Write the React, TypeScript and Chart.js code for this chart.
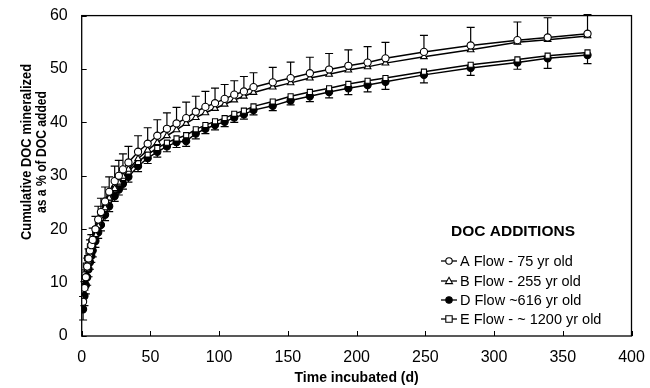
import React, { useEffect, useRef } from "react";
import { Chart, registerables } from "chart.js";

Chart.register(...registerables);

const days = [1, 2, 3, 4, 5, 6, 7, 8, 10, 12, 14, 17, 20, 24, 27, 30, 34, 41, 48, 55, 62, 69, 76, 83, 90, 97, 104, 111, 118, 125, 139, 152, 166, 180, 194, 208, 221, 249, 283, 317, 339, 368];

const flowA = [6.4, 9, 11, 13, 14.5, 16, 17, 18, 20, 21.8, 23.2, 25.2, 27, 29, 30, 31.2, 32.5, 34.5, 36, 37.5, 38.8, 39.8, 40.8, 42.0, 42.9, 43.6, 44.4, 45.2, 45.8, 46.6, 47.5, 48.3, 49.2, 49.9, 50.6, 51.2, 52.0, 53.2, 54.4, 55.4, 55.9, 56.6];
const flowB = [7, 9, 11, 12.5, 14, 15.2, 16.3, 17.2, 19, 20.6, 22, 24, 25.8, 27.6, 28.8, 29.9, 31.2, 33.2, 34.8, 36.2, 37.5, 38.6, 39.8, 40.9, 41.8, 42.6, 43.4, 44.2, 44.9, 45.6, 46.6, 47.4, 48.3, 49.0, 49.8, 50.4, 51.1, 52.3, 53.6, 55.0, 55.5, 56.2];
const flowD = [5.0, 7.5, 9.5, 11, 12.5, 13.8, 15, 16, 17.8, 19.4, 20.8, 22.7, 24.3, 26.2, 27.4, 28.5, 29.8, 31.8, 33.3, 34.5, 35.5, 36.3, 36.5, 37.9, 38.8, 39.5, 40.1, 40.9, 41.5, 42.3, 43.1, 44.1, 44.9, 45.7, 46.4, 47.0, 47.6, 48.9, 50.2, 51.2, 52.0, 52.6];
const flowE = [9.2, 11.5, 13.2, 14.6, 15.8, 16.8, 17.7, 18.5, 20, 21.4, 22.6, 24.3, 25.8, 27.5, 28.6, 29.6, 30.8, 32.6, 34.0, 35.2, 36.2, 37.0, 37.6, 38.7, 39.5, 40.2, 40.8, 41.6, 42.2, 43.0, 43.9, 44.9, 45.7, 46.4, 47.2, 47.8, 48.3, 49.5, 50.8, 51.8, 52.5, 53.1];

// upper error of A, lower error of D
const errA = [1, 1.2, 1.4, 1.6, 1.8, 2, 2, 2.2, 2.4, 2.5, 2.6, 2.7, 2.8, 2.8, 2.9, 2.9, 3, 3, 3, 3, 3, 3, 3.0, 2.9, 2.9, 2.8, 2.7, 2.6, 2.8, 2.7, 2.8, 3.0, 3.0, 3.0, 3.0, 3.0, 3.0, 3.1, 3.4, 3.4, 3.7, 3.6];
const errD = [2, 1.8, 1.6, 1.5, 1.4, 1.3, 1.2, 1.2, 1.2, 1.1, 1.1, 1.1, 1.0, 1.0, 1.0, 1.0, 1.0, 1.0, 1.0, 1.0, 1.0, 1.0, 1.0, 1.0, 0.9, 0.9, 0.9, 0.9, 0.9, 0.9, 0.9, 0.8, 1.0, 1.1, 1.2, 1.3, 1.4, 1.5, 1.4, 1.25, 1.9, 1.6];

const seriesLabels = ["A Flow - 75 yr old", "B Flow - 255 yr old", "D Flow ~616 yr old", "E Flow - ~ 1200 yr old"];
const legendTitle = "DOC ADDITIONS";
const xTitle = "Time incubated (d)";
const yTitle = ["Cumulative DOC mineralized", "as a % of DOC added"];
const xTicks = [0, 50, 100, 150, 200, 250, 300, 350, 400];
const yTicks = [0, 10, 20, 30, 40, 50, 60];

const FONT = "Arial, 'Liberation Sans', sans-serif";

function drawMarker(ctx: CanvasRenderingContext2D, style: string, fill: string, x: number, y: number, r: number) {
  ctx.save();
  ctx.beginPath();
  if (style === "circle") {
    ctx.arc(x, y, r, 0, Math.PI * 2);
  } else if (style === "triangle") {
    const h = r * 1.15;
    ctx.moveTo(x, y - h);
    ctx.lineTo(x + h * 0.95, y + h * 0.7);
    ctx.lineTo(x - h * 0.95, y + h * 0.7);
    ctx.closePath();
  } else {
    ctx.rect(x - r, y - r, r * 2, r * 2);
  }
  ctx.fillStyle = fill;
  ctx.fill();
  ctx.strokeStyle = "#000";
  ctx.lineWidth = 1.1;
  ctx.stroke();
  ctx.restore();
}

export default function App() {
  const ref = useRef<HTMLCanvasElement | null>(null);

  useEffect(() => {
    document.body.style.margin = "0";
    const canvas = ref.current;
    if (!canvas) return;

    const mk = (vals: number[]) => days.map((d, i) => ({ x: d, y: vals[i] }));

    const errorBars = {
      id: "errorBars",
      beforeDatasetsDraw(chart: any) {
        const { ctx } = chart;
        const xs = chart.scales.x;
        const ys = chart.scales.y;
        ctx.save();
        ctx.strokeStyle = "#000";
        ctx.lineWidth = 1.2;
        const draw = (vals: number[], errs: number[], dir: number) => {
          days.forEach((d, i) => {
            const px = xs.getPixelForValue(d);
            const p0 = ys.getPixelForValue(vals[i]);
            const p1 = ys.getPixelForValue(vals[i] + dir * errs[i]);
            ctx.beginPath();
            ctx.moveTo(px, p0);
            ctx.lineTo(px, p1);
            ctx.moveTo(px - 4, p1);
            ctx.lineTo(px + 4, p1);
            ctx.stroke();
          });
        };
        draw(flowA, errA, 1);
        draw(flowD, errD, -1);
        ctx.restore();
      },
    };

    const fitText = (ctx: CanvasRenderingContext2D, text: string, cx: number, cy: number, len: number) => {
      const w = ctx.measureText(text).width;
      ctx.save();
      ctx.translate(cx, cy);
      ctx.rotate(-Math.PI / 2);
      ctx.scale(len / w, 1);
      ctx.fillText(text, 0, 0);
      ctx.restore();
    };

    const decor = {
      id: "decor",
      afterDraw(chart: any) {
        const { ctx, chartArea } = chart;
        const xs = chart.scales.x;
        const ys = chart.scales.y;
        ctx.save();
        ctx.strokeStyle = "#000";
        ctx.lineWidth = 1.3;
        ctx.strokeRect(chartArea.left, chartArea.top, chartArea.right - chartArea.left, chartArea.bottom - chartArea.top);
        ctx.lineWidth = 1;
        xTicks.forEach((t) => {
          const px = Math.round(xs.getPixelForValue(t)) + 0.5;
          ctx.beginPath();
          ctx.moveTo(px, chartArea.bottom);
          ctx.lineTo(px, chartArea.bottom - 5);
          ctx.stroke();
        });
        yTicks.forEach((t) => {
          const py = Math.round(ys.getPixelForValue(t)) + 0.5;
          ctx.beginPath();
          ctx.moveTo(chartArea.left, py);
          ctx.lineTo(chartArea.left + 5, py);
          ctx.stroke();
        });

        // axis titles
        ctx.fillStyle = "#000";
        ctx.font = `bold 14px ${FONT}`;
        ctx.textAlign = "center";
        ctx.textBaseline = "middle";
        ctx.fillText(xTitle, (chartArea.left + chartArea.right) / 2, 378);
        ctx.font = `bold 14.5px ${FONT}`;
        fitText(ctx, yTitle[0], 26.5, 152, 176);
        fitText(ctx, yTitle[1], 42, 152, 122);

        // legend
        ctx.font = `bold 15.5px ${FONT}`;
        ctx.textAlign = "center";
        ctx.fillText(legendTitle, 513, 232);
        const styles = [
          ["circle", "#fff", 3.2],
          ["triangle", "#fff", 3.2],
          ["circle", "#000", 3.2],
          ["rect", "#fff", 3.2],
        ];
        const rows = [261, 281, 300, 319];
        ctx.font = `14.5px ${FONT}`;
        ctx.textAlign = "left";
        seriesLabels.forEach((lab, i) => {
          const y = rows[i];
          ctx.lineWidth = 1.3;
          ctx.beginPath();
          ctx.moveTo(441, y);
          ctx.lineTo(457, y);
          ctx.stroke();
          drawMarker(ctx, styles[i][0] as string, styles[i][1] as string, 449, y, styles[i][2] as number);
          ctx.fillStyle = "#000";
          ctx.fillText(lab, 460, y + 0.5);
        });
        ctx.restore();
      },
    };

    const ds = (label: string, vals: number[], style: string, fill: string, order: number, radius: number) => ({
      label,
      data: mk(vals),
      borderColor: "#000",
      borderWidth: 1.5,
      backgroundColor: fill,
      pointStyle: style,
      pointRadius: radius,
      pointBackgroundColor: fill,
      pointBorderColor: "#000",
      pointBorderWidth: 1.1,
      showLine: true,
      tension: 0,
      order,
    });

    const chart = new Chart(canvas, {
      type: "line",
      data: {
        datasets: [
          ds(seriesLabels[0], flowA, "circle", "#fff", 1, 3.6),
          ds(seriesLabels[1], flowB, "triangle", "#fff", 2, 3.8),
          ds(seriesLabels[3], flowE, "rect", "#fff", 3, 3.6),
          ds(seriesLabels[2], flowD, "circle", "#000", 4, 3.6),
        ],
      },
      options: {
        responsive: false,
        animation: false,
        devicePixelRatio: 1,
        layout: { padding: { left: 0, top: 14, right: 18.5, bottom: 0 } },
        plugins: { legend: { display: false }, tooltip: { enabled: false }, title: { display: false } },
        scales: {
          x: {
            type: "linear",
            min: 0,
            max: 400,
            grid: { display: false },
            border: { display: false },
            ticks: { stepSize: 50, color: "#000", font: { size: 16, family: FONT }, padding: 4, maxRotation: 0 },
            afterFit: (s: any) => { s.height = 52; },
          },
          y: {
            type: "linear",
            min: 0,
            max: 60,
            grid: { display: false },
            border: { display: false },
            ticks: { stepSize: 10, color: "#000", font: { size: 16, family: FONT }, padding: 6 },
            afterFit: (s: any) => { s.width = 81.7; },
          },
        },
      },
      plugins: [errorBars, decor],
    } as any);

    return () => chart.destroy();
  }, []);

  return (
    <div style={{ position: "fixed", left: 0, top: 0, width: 650, height: 388, background: "#fff" }}>
      <canvas ref={ref} width={650} height={388} style={{ width: 650, height: 388 }} />
    </div>
  );
}
